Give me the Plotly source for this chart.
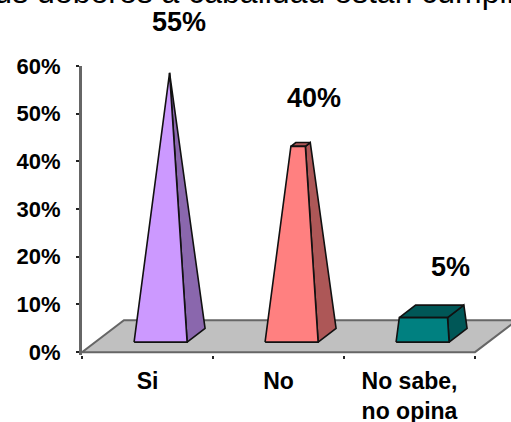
import plotly.graph_objects as go

# Survey results
categories = ["Si", "No", "No sabe,<br>no opina"]
values = [55, 40, 5]
value_labels = ["55%", "40%", "5%"]
front_colors = ["#CC99FF", "#FF8080", "#008080"]
side_colors = ["#8A67AD", "#AD5757", "#005757"]
top_colors = ["#8A67AD", "#AD5757", "#005757"]
y_ticks = [0, 10, 20, 30, 40, 50, 60]
heading = "Sus deberes a cabalidad están cumpliendo"

# Pseudo-3D geometry in axis units (categories on x, percent on y)
APEX = max(values)
BAR_W = 0.405
BAR_DX, BAR_DY = 0.137, 2.9
BASE_Y = 2.1
FLOOR_DX, FLOOR_DY = 0.32, 6.7
OUTLINE = "#111111"
FONT = "Liberation Sans"


def poly(xs, ys, fill, line=OUTLINE, width=1.6):
    return go.Scatter(x=xs + xs[:1], y=ys + ys[:1], mode="lines", fill="toself",
                      fillcolor=fill, line=dict(color=line, width=width),
                      hoverinfo="skip", showlegend=False)


fig = go.Figure()

# Floor plane
fig.add_trace(poly([0, 3, 3 + FLOOR_DX, FLOOR_DX], [0, 0, FLOOR_DY, FLOOR_DY],
                   "#C0C0C0", line="#666666", width=2))

# Tapered columns: each is a pyramid cut off at its own value
for i, v in enumerate(values):
    cx = i + 0.6
    k = 1 - v / APEX
    cy = BASE_Y + BAR_DY / 2
    bx = cx + BAR_DX / 2
    tw = BAR_W * k / 2
    tdx, tdy = BAR_DX * k / 2, BAR_DY * k / 2
    top = cy + v
    base_l, base_r = cx - BAR_W / 2, cx + BAR_W / 2
    fl, fr = bx - tw - tdx, bx + tw - tdx
    bl, br = bx - tw + tdx, bx + tw + tdx
    yf, yb = top - tdy, top + tdy
    # side face
    fig.add_trace(poly([base_r, base_r + BAR_DX, br, fr],
                       [BASE_Y, BASE_Y + BAR_DY, yb, yf], side_colors[i]))
    # top face
    if k > 0:
        fig.add_trace(poly([fl, fr, br, bl], [yf, yf, yb, yb], top_colors[i]))
    # front face
    fig.add_trace(poly([base_l, base_r, fr, fl],
                       [BASE_Y, BASE_Y, yf, yf], front_colors[i]))

left, top_px, bottom_px = 82, 66, 355
plot_w = 511 - left
plot_h = bottom_px - top_px


def paper_y(px):
    # Paper coordinate of a pixel row on the page
    return (bottom_px - px) / plot_h


fig.update_layout(
    width=511, height=422, autosize=False,
    margin=dict(l=left, r=0, t=top_px, b=422 - bottom_px, autoexpand=False),
    paper_bgcolor="white", plot_bgcolor="white", showlegend=False,
    font=dict(family=FONT, color="black"),
    xaxis=dict(range=[0, plot_w / 131], showgrid=False, zeroline=False, showline=False,
               tickmode="array", tickvals=[i + 0.5 for i in range(3)], ticktext=categories,
               ticks="", ticklen=0, ticklabelstandoff=10,
               tickfont=dict(size=23, family=FONT, weight="bold"), tickangle=0,
               minor=dict(tickmode="array", tickvals=[0, 1, 2, 3], ticks="outside", ticklen=3,
                          tickwidth=1.5, tickcolor="#222222", showgrid=False)),
    yaxis=dict(range=[-0.6, 60], showgrid=False, zeroline=False, showline=True, linecolor="#666666",
               linewidth=3, tickmode="array", tickvals=y_ticks, ticktext=[f"{t}%" for t in y_ticks],
               ticks="outside", ticklen=3, tickwidth=1.5, tickcolor="#222222",
               ticklabelstandoff=11, tickfont=dict(size=22, family=FONT, weight="bold")),
)

# Value labels, placed by column
label_pos = [(0.744, 22), (1.77, 98), (2.81, 267)]
for (lx, py), text in zip(label_pos, value_labels):
    fig.add_annotation(x=lx, y=paper_y(py), xref="x", yref="paper", yanchor="middle",
                       text=f"<b>{text}</b>", showarrow=False,
                       font=dict(size=27, family=FONT, color="black"))

# Heading runs past the page edges
fig.add_annotation(x=(-29 - left) / plot_w, xref="paper", xanchor="left",
                   y=paper_y(-8), yref="paper", yanchor="middle",
                   text=heading, showarrow=False,
                   font=dict(size=32, family=FONT, color="black"))

fig.write_html("out.html")
